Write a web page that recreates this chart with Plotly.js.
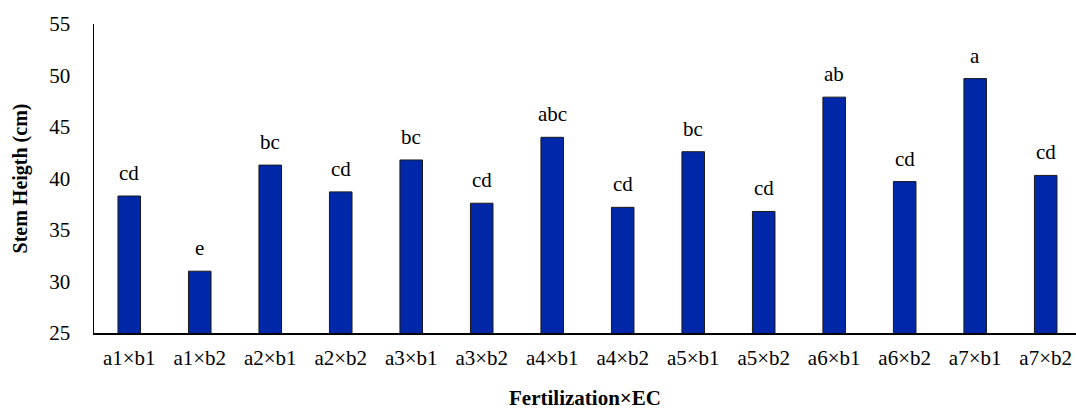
<!DOCTYPE html>
<html>
<head>
<meta charset="utf-8">
<script src="https://cdn.plot.ly/plotly-3.0.1.min.js"></script>
<style>html,body{margin:0;padding:0;background:#fff;}#chart{width:1076px;height:412px;}</style>
</head>
<body>
<div id="chart"></div>
<script>
const categories = ["a1×b1","a1×b2","a2×b1","a2×b2","a3×b1","a3×b2","a4×b1","a4×b2","a5×b1","a5×b2","a6×b1","a6×b2","a7×b1","a7×b2"];
const stemHeight = [38.3, 31.0, 41.3, 38.7, 41.8, 37.6, 44.0, 37.2, 42.6, 36.8, 47.9, 39.7, 49.7, 40.3];
const letters = ["cd","e","bc","cd","bc","cd","abc","cd","bc","cd","ab","cd","a","cd"];

const font = "Liberation Serif, Times New Roman, serif";

const trace = {
  type: 'bar',
  x: categories,
  y: stemHeight,
  width: 0.32,
  marker: {color: '#0027a8', line: {color: '#1a1a1a', width: 1}},
  hoverinfo: 'x+y'
};

const annotations = categories.map((c, i) => ({
  x: c, y: stemHeight[i], xref: 'x', yref: 'y',
  text: letters[i], showarrow: false,
  yanchor: 'bottom', yshift: 9,
  font: {family: font, size: 21, color: '#000'}
}));

const layout = {
  width: 1076, height: 412,
  margin: {l: 94, r: 0, t: 24, b: 79},
  paper_bgcolor: '#fff', plot_bgcolor: '#fff',
  showlegend: false,
  font: {family: font, color: '#000'},
  xaxis: {
    type: 'category',
    range: [-0.5, 13.43],
    showline: true, linecolor: '#000', linewidth: 1.5,
    ticks: '', showgrid: false, zeroline: false,
    tickfont: {family: font, size: 21, color: '#000'},
    ticklabelstandoff: 5,
    title: {text: '<b>Fertilization×EC</b>', font: {family: font, size: 21, color: '#000'}, standoff: 21}
  },
  yaxis: {
    range: [25, 55],
    tickvals: [25, 30, 35, 40, 45, 50, 55],
    showline: true, linecolor: '#000', linewidth: 1.5,
    ticks: '', showgrid: false, zeroline: false,
    tickfont: {family: font, size: 21, color: '#000'},
    ticklabelstandoff: 18,
    title: {text: '<b>Stem Heigth (cm)</b>', font: {family: font, size: 20, color: '#000'}, standoff: 16}
  },
  annotations: annotations
};

Plotly.newPlot('chart', [trace], layout, {displayModeBar: false, staticPlot: true});
</script>
</body>
</html>
